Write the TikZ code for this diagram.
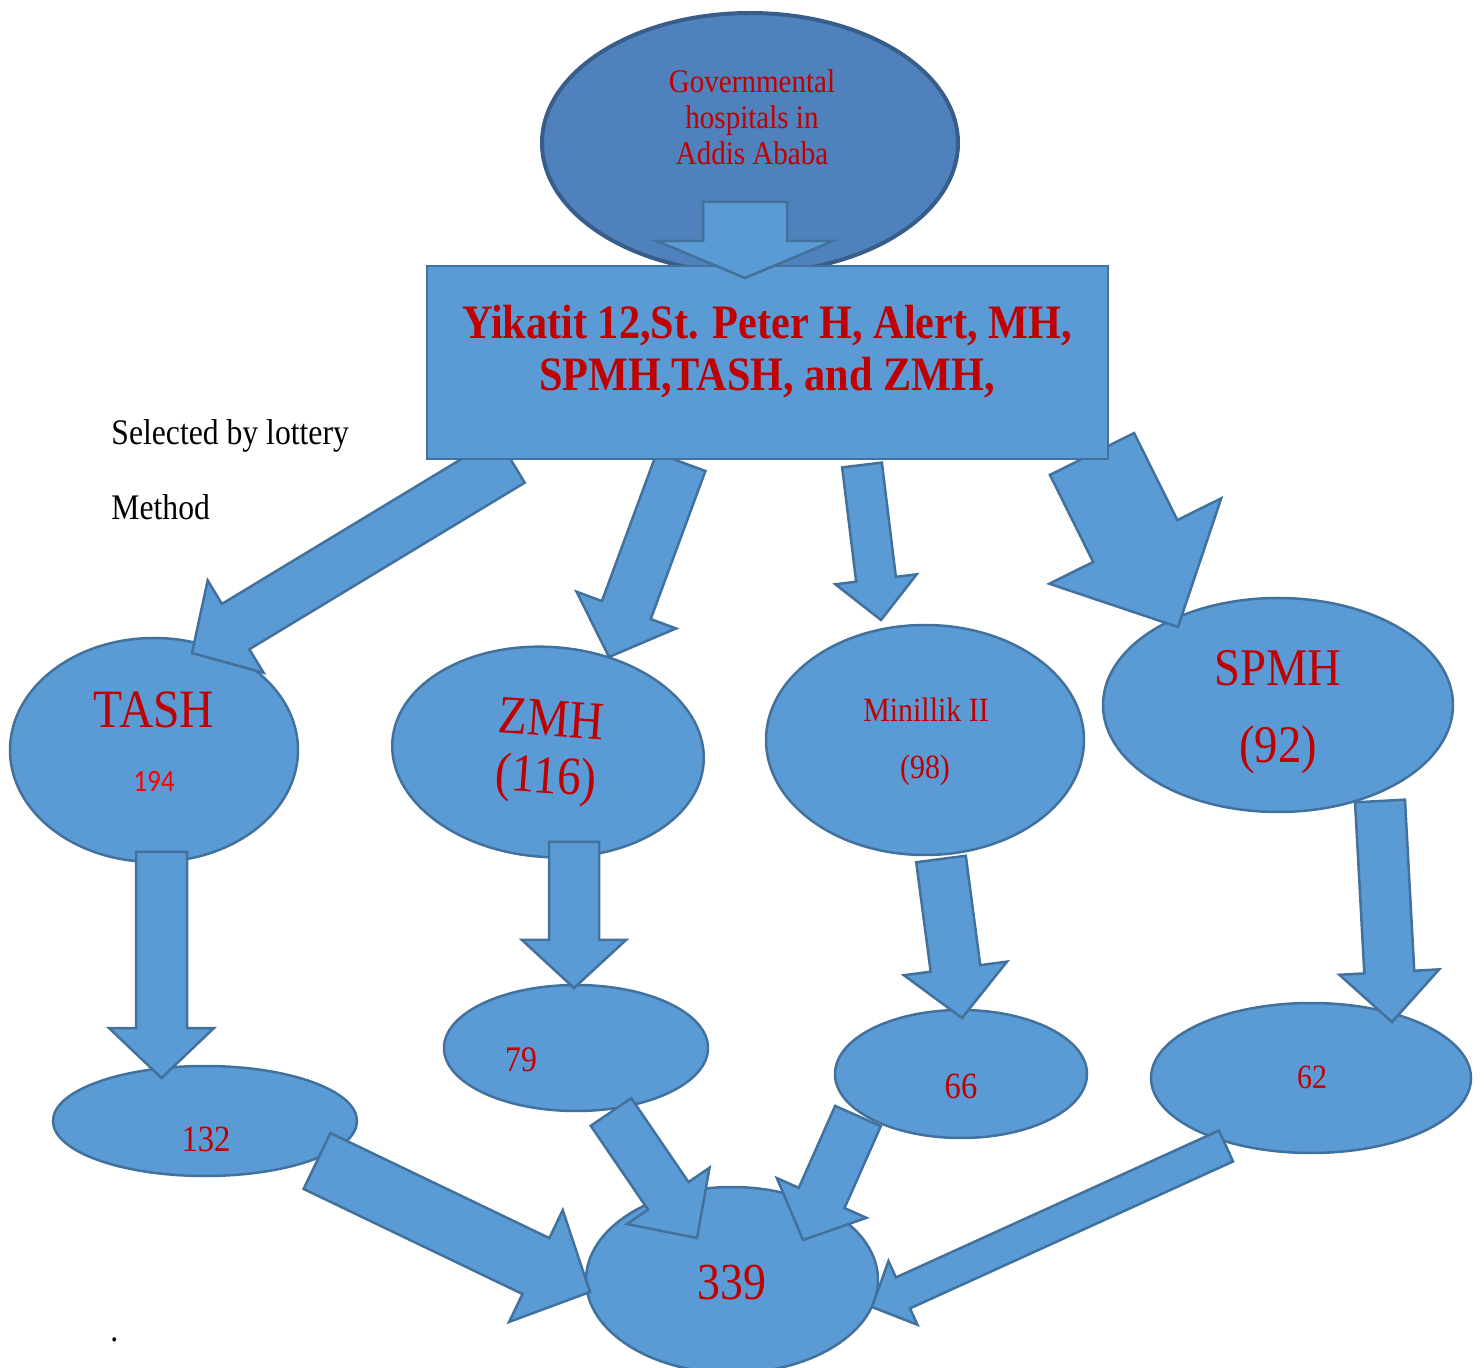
\documentclass[tikz,border=0pt]{standalone}
\usepackage{fontspec}
\setmainfont{Liberation Serif}[FakeStretch=0.88]
\newfontfamily\calfont{Carlito}[FakeStretch=0.88]
\usetikzlibrary{shapes,calc}

\definecolor{boxblue}{HTML}{5B9BD5}
\definecolor{lineblue}{HTML}{41719C}
\definecolor{topblue}{HTML}{4F81BD}
\definecolor{topline}{HTML}{385D8A}
\definecolor{redtxt}{HTML}{C00000}

% block arrow from (s#1) to (e#1): half shaft, half head, head length (px)
\newcommand\blockarrow[4]{%
  \coordinate (hb#1) at ($(e#1)!#4*0.5pt!(s#1)$);
  \draw[arrowbox] ($(s#1)!#2*0.5pt!90:(e#1)$) -- ($(hb#1)!#2*0.5pt!90:(e#1)$)
    -- ($(hb#1)!#3*0.5pt!90:(e#1)$) -- (e#1) -- ($(hb#1)!#3*0.5pt!-90:(e#1)$)
    -- ($(hb#1)!#2*0.5pt!-90:(e#1)$) -- ($(s#1)!#2*0.5pt!-90:(e#1)$) -- cycle;}

\begin{document}
\begin{tikzpicture}[x=0.5pt,y=-0.5pt,
  oval/.style={ellipse, draw=lineblue, fill=boxblue, line width=1.25pt, inner sep=0pt},
  arrowbox/.style={draw=lineblue, fill=boxblue, line width=1.25pt, line join=miter},
  lbl/.style={text=redtxt, inner sep=0pt}]

  \useasboundingbox (0,0) rectangle (1484,1368);

  \node[oval, fill=topblue, draw=topline, line width=2pt, minimum width=208pt, minimum height=130pt] (gov) at (750,143) {};

  \node[oval, minimum width=144pt, minimum height=112pt] (tash) at (154,750) {};
  \node[oval, minimum width=156pt, minimum height=105pt, rotate=-4] (zmh) at (548,752) {};
  \node[oval, minimum width=159pt, minimum height=115pt] (men) at (925,740) {};
  \node[oval, minimum width=175pt, minimum height=107pt] (spmh) at (1278,705) {};
  \node[oval, minimum width=152pt, minimum height=55pt] (tashn) at (205,1121) {};
  \node[oval, minimum width=132pt, minimum height=63pt] (zmhn) at (576,1048) {};
  \node[oval, minimum width=126pt, minimum height=64pt] (menn) at (961,1074) {};
  \node[oval, minimum width=160pt, minimum height=75pt] (spmhn) at (1311,1078) {};
  \node[oval, minimum width=146pt, minimum height=93pt] (total) at (732,1280) {};

  \coordinate (s0) at (745,202);   \coordinate (e0) at (745,278);
  \coordinate (s1) at (511,460);   \coordinate (e1) at (192,653);
  \coordinate (s2) at (681,462);   \coordinate (e2) at (609,657);
  \coordinate (s3) at (862,465);   \coordinate (e3) at (881,620);
  \coordinate (s4) at (1092,454);  \coordinate (e4) at (1178,627);
  \coordinate (s5) at (161.5,852); \coordinate (e5) at (161.5,1078);
  \coordinate (s6) at (574,842);   \coordinate (e6) at (574,988);
  \coordinate (s7) at (941,859);   \coordinate (e7) at (962,1018);
  \coordinate (s8) at (1380,801);  \coordinate (e8) at (1392,1022);
  \coordinate (s9) at (317,1161);  \coordinate (e9) at (590,1292);
  \coordinate (s10) at (611,1112); \coordinate (e10) at (697,1238);
  \coordinate (s11) at (858,1116); \coordinate (e11) at (803,1240);
  \coordinate (s12) at (1226,1146); \coordinate (e12) at (872,1307);

  \foreach \i/\w/\h/\l in {1/26.5/54/51, 2/26/53/50, 3/20/41/41, 4/47/96/96,
      5/25.5/52.5/50, 6/25/52/48, 7/25/52/50, 8/25/50/50,
      9/31/62/60, 10/24.5/50/51, 11/25/49/46, 12/17/35/34}{
    \blockarrow{\i}{\w}{\h}{\l}
  }

  \node[draw=lineblue, fill=boxblue, line width=1.25pt, minimum width=340.5pt, minimum height=96.5pt] (hosp) at (767.5,362.5) {};
  \blockarrow{0}{42}{88}{37}

  \node[lbl, font=\fontsize{16.5}{18}\selectfont, align=center] (govlbl) at (752,117) {Governmental\\hospitals in\\Addis Ababa};
  \node[lbl, font=\bfseries\fontsize{24}{26}\selectfont, align=center] (hosplbl) at (767,352) {Yikatit 12,St. Peter H, Alert, MH,\\SPMH,TASH, and ZMH,};

  \node[anchor=base west, inner sep=0pt, font=\fontsize{18}{20}\selectfont] (sel) at (111,445) {Selected by lottery};
  \node[anchor=base west, inner sep=0pt, font=\fontsize{18}{20}\selectfont] (meth) at (111,520) {Method};
  \node[anchor=base west, inner sep=0pt, font=\fontsize{18}{20}\selectfont] (dot) at (110,1341) {.};

  \node[lbl, font=\fontsize{27}{30}\selectfont] (tashlbl) at (154,710) {TASH};
  \node[lbl, text=red, font=\calfont\fontsize{15.5}{18}\selectfont] (tashnum) at (154,781) {194};
  \node[lbl, font=\fontsize{27}{30}\selectfont, rotate=-4] (zmhlbl) at (551,719) {ZMH};
  \node[lbl, font=\fontsize{27}{30}\selectfont, rotate=-4] (zmhnum) at (546,780) {(116)};
  \node[lbl, font=\fontsize{17}{20}\selectfont] (menlbl) at (926,710) {Minillik II};
  \node[lbl, font=\fontsize{17}{20}\selectfont] (mennum) at (925,770) {(98)};
  \node[lbl, font=\fontsize{26.5}{30}\selectfont] (spmhlbl) at (1278,668) {SPMH};
  \node[lbl, font=\fontsize{26.5}{30}\selectfont] (spmhnum) at (1278,750) {(92)};

  \node[lbl, font=\fontsize{18.5}{20}\selectfont] (tashnlbl) at (206,1139) {132};
  \node[lbl, font=\fontsize{18}{20}\selectfont] (zmhnlbl) at (521,1060) {79};
  \node[lbl, font=\fontsize{18.5}{20}\selectfont] (mennlbl) at (961,1086) {66};
  \node[lbl, font=\fontsize{17}{20}\selectfont] (spmhnlbl) at (1312,1077) {62};
  \node[lbl, font=\fontsize{26}{30}\selectfont] (totallbl) at (732,1283) {339};

\end{tikzpicture}
\end{document}
